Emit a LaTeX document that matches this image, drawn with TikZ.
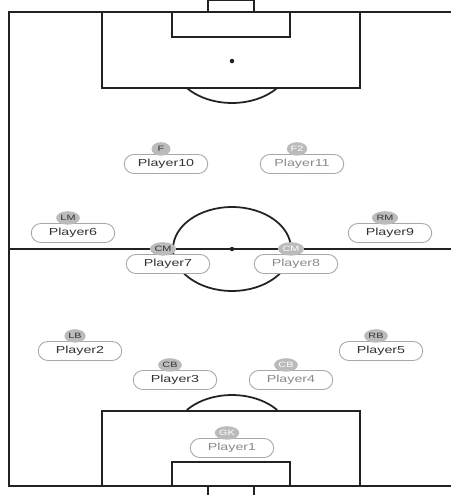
\documentclass[tikz,border=0pt]{standalone}
\usepackage{fontspec}
\newfontfamily\pitchfont[FakeStretch=1.4]{Liberation Sans}
\usetikzlibrary{positioning, shapes.geometric, shapes.misc}
\definecolor{cline}{HTML}{222222}
\definecolor{cpill}{HTML}{A8A8A8}
\definecolor{crole}{HTML}{BBBBBB}
\definecolor{cdark}{HTML}{333333}
\definecolor{clight}{HTML}{8A8A8A}
\tikzset{
  every picture/.style={line width=1pt},
  field/.style={draw=cline, line width=1pt},
  spot/.style={circle, fill=cline, inner sep=0pt, minimum size=0.09cm},
  pill/.style={draw=cpill, fill=white, rounded rectangle, line width=0.5pt, minimum width=1.74cm, minimum height=0.38cm, inner sep=1pt, font=\pitchfont\fontsize{5.8}{6}\selectfont},
  role/.style={ellipse, fill=crole, inner sep=0.5pt, minimum width=0.38cm, minimum height=0.27cm, font=\pitchfont\fontsize{4.4}{5}\selectfont},
}

\begin{document}
\begin{tikzpicture}[x=0.02cm, y=-0.02cm]
  \useasboundingbox (0,0) rectangle (451,495);

  % touch lines and halfway line
  \draw[field] (451,12) -- (9,12) -- (9,486) -- (451,486);
  \draw[field] (9,249) -- (451,249);
  \node[spot] (kickoff) at (232,249) {};
  \draw[field] (kickoff) ellipse [x radius=1.18cm, y radius=0.84cm];

  % top end
  \draw[field] (102,12) rectangle (360,88);
  \draw[field] (172,12) rectangle (290,37);
  \draw[field] (208,0) rectangle (254,12);
  \node[spot] (topspot) at (232,61) {};
  \draw[field] ([shift={(-40:1.18cm and 0.84cm)}]topspot.center) arc[start angle=-40, end angle=-140, x radius=1.18cm, y radius=0.84cm];

  % bottom end
  \draw[field] (102,411) rectangle (360,486);
  \draw[field] (172,462) rectangle (290,486);
  \draw[field] (208,486) rectangle (254,497);
  \coordinate (botspot) at (232,437);
  \draw[field] ([shift={(40:1.18cm and 0.84cm)}]botspot) arc[start angle=40, end angle=140, x radius=1.18cm, y radius=0.84cm];

  % players
  \foreach \id/\px/\py/\pos/\tc/\rc in {
      10/166/164/F/cdark/cdark, 11/302/164/F2/clight/white,
      6/73/233/LM/cdark/cdark, 9/390/233/RM/cdark/cdark,
      7/168/264/CM/cdark/cdark, 8/296/264/CM/clight/white,
      2/80/351/LB/cdark/cdark, 5/381/351/RB/cdark/cdark,
      3/175/380/CB/cdark/cdark, 4/291/380/CB/clight/white,
      1/232/448/GK/clight/white} {
    \node[pill, text=\tc] (p\id) at (\px,\py) {Player\id};
    \node[role, text=\rc, above=-0.05cm of p\id.north, xshift=-0.1cm] (r\id) {\pos};
  }
\end{tikzpicture}
\end{document}
